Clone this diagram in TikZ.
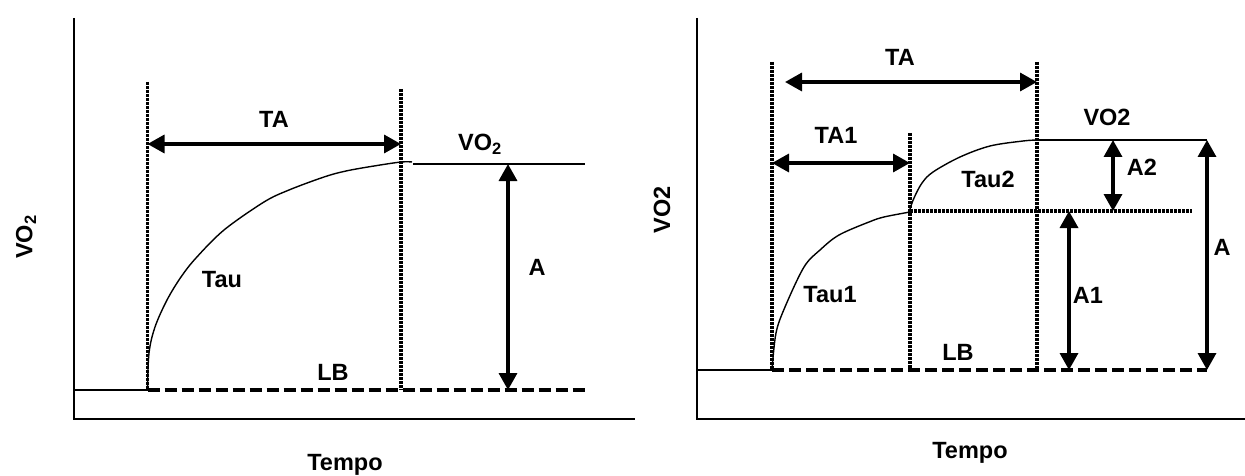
\documentclass[tikz,border=0pt]{standalone}
\usepackage{fontspec}
\setmainfont{Liberation Sans}
\usetikzlibrary{arrows.meta}
\begin{document}
\begin{tikzpicture}[x=1pt,y=-1pt,
  lbl/.style={font=\fontsize{23.5}{28}\selectfont\bfseries, inner sep=0pt},
  axisline/.style={line width=1.6pt},
  thinline/.style={line width=1.4pt},
  dimarrow/.style={line width=3.4pt, {Triangle[length=17pt,width=18pt]}-{Triangle[length=17pt,width=18pt]}},
  guide/.style={line width=3.2pt, dash pattern=on 3pt off 1pt},
  baseline dash/.style={line width=3.4pt, dash pattern=on 12pt off 5pt}]
\useasboundingbox (0,0) rectangle (1245,476);

% ---------------- Left panel ----------------
\coordinate (Ltop) at (74,18);
\coordinate (Lo) at (74,419);
\coordinate (Lxend) at (635,419);
\coordinate (Lb0) at (73,390);
\coordinate (Lb1) at (147.5,390);
\coordinate (Lb2) at (585,390);
\coordinate (Lv1t) at (147.5,82);
\coordinate (Lv2t) at (401,89);
\coordinate (Lv2b) at (401,390);
\coordinate (LTAa) at (147.5,144);
\coordinate (LTAb) at (401,144);
\coordinate (Lp0) at (413,164);
\coordinate (Lp1) at (585,164);
\coordinate (LAt) at (508,164);
\coordinate (LAb) at (508,390);

\draw[axisline] (Ltop) -- (Lo) -- (Lxend);
\draw[thinline] (Lb0) -- (Lb1);
\draw[baseline dash] (Lb1) -- (Lb2);
\draw[thinline] plot[smooth, tension=0.55] coordinates {(147.5,390) (149,353) (155,327) (167,300) (181,277) (196,258) (224,230) (264,202) (289,190) (324,177) (346,171) (374,166) (401,162) (412,162)};
\draw[thinline] (Lp0) -- (Lp1);
\draw[guide] (Lv1t) -- (Lb1);
\draw[guide] (Lv2t) -- (Lv2b);
\draw[dimarrow] (LTAa) -- (LTAb);
\draw[dimarrow] (LAt) -- (LAb);

\node[lbl] (lTA) at (274,119) {TA};
\node[lbl] (lVO) at (480,144) {VO\textsubscript{2}};
\node[lbl] (lTau) at (222,280) {Tau};
\node[lbl] (lLB) at (333,372) {LB};
\node[lbl] (lA) at (537,267) {A};
\node[lbl] (lTempo) at (345,465) {Tempo};
\node[lbl, rotate=90] (lY) at (26,237) {VO\textsubscript{2}};

% ---------------- Right panel ----------------
\coordinate (Rtop) at (697,18);
\coordinate (Ro) at (697,419);
\coordinate (Rxend) at (1245,419);
\coordinate (Rb0) at (697,370);
\coordinate (Rb1) at (772,370);
\coordinate (Rb2) at (910,370);
\coordinate (Rb3) at (1037,370);
\coordinate (Rb4) at (1207,370);
\coordinate (Rv1t) at (772,62);
\coordinate (Rv2t) at (910,133);
\coordinate (Rv3t) at (1037,62);
\coordinate (RTAa) at (785,82);
\coordinate (RTAb) at (1037,82);
\coordinate (RTA1a) at (772,163);
\coordinate (RTA1b) at (910,163);
\coordinate (Rm0) at (910,211);
\coordinate (Rm1) at (1192,211);
\coordinate (Rp0) at (1037,140);
\coordinate (Rp1) at (1207,140);
\coordinate (RA2t) at (1113,140);
\coordinate (RA2b) at (1113,211);
\coordinate (RA1t) at (1069,211);
\coordinate (RA1b) at (1069,370);

\draw[axisline] (Rtop) -- (Ro) -- (Rxend);
\draw[thinline] (Rb0) -- (Rb1);
\draw[baseline dash] (Rb1) -- (Rb4);
\draw[thinline] plot[smooth, tension=0.55] coordinates {(772,370) (776,333) (785,307) (804,267) (820,250) (839,235) (869,222) (884,217) (910,212)};
\draw[thinline] plot[smooth, tension=0.55] coordinates {(910,209) (914,198) (922,183) (933,172) (960,157) (990,146) (1023,141) (1037,140)};
\draw[thinline] (Rp0) -- (Rp1);
\draw[guide] (Rm0) -- (Rm1);
\draw[guide] (Rv1t) -- (Rb1);
\draw[guide] (Rv2t) -- (Rb2);
\draw[guide] (Rv3t) -- (Rb3);
\draw[dimarrow] (RTAa) -- (RTAb);
\draw[dimarrow] (RTA1a) -- (RTA1b);
\draw[dimarrow] (RA2t) -- (RA2b);
\draw[dimarrow] (RA1t) -- (RA1b);
\draw[dimarrow] (Rp1) -- (Rb4);

\node[lbl] (rTA) at (900,57) {TA};
\node[lbl] (rTA1) at (836,135) {TA1};
\node[lbl] (rVO) at (1107,117) {VO2};
\node[lbl] (rTau2) at (988,179) {Tau2};
\node[lbl] (rTau1) at (830,295) {Tau1};
\node[lbl] (rLB) at (958,352) {LB};
\node[lbl] (rA2) at (1142,167) {A2};
\node[lbl] (rA1) at (1088,295) {A1};
\node[lbl] (rA) at (1222,247) {A};
\node[lbl] (rTempo) at (970,453) {Tempo};
\node[lbl, rotate=90] (rY) at (662,210) {VO2};
\end{tikzpicture}
\end{document}
